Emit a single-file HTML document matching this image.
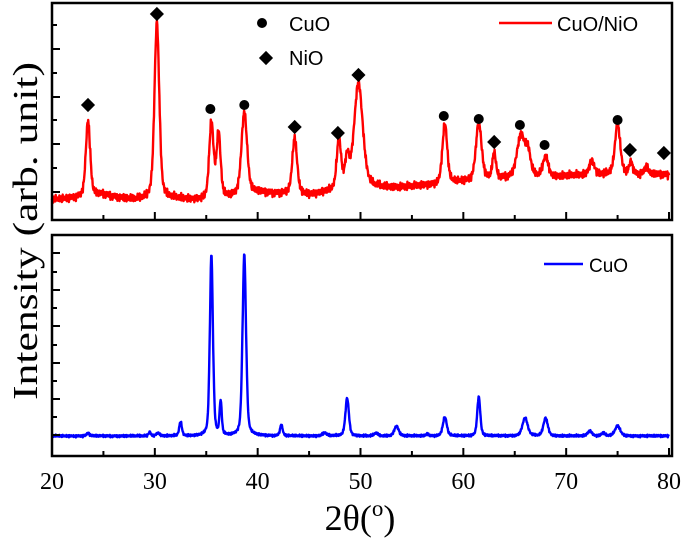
<!DOCTYPE html>
<html><head><meta charset="utf-8"><style>
body{margin:0;background:#fff}
svg{display:block}
text{font-family:"Liberation Serif",serif}
.sans{font-family:"Liberation Sans",sans-serif}
</style></head><body>
<svg id="chart" width="685" height="539" viewBox="0 0 685 539">
<g id="top"></g>
<g id="bot"></g>
<g id="axes"></g>
<text x="0" y="0" font-size="35" text-anchor="middle" textLength="338" lengthAdjust="spacingAndGlyphs" transform="translate(37,231) rotate(-90)">Intensity (arb. unit)</text>
<text x="360" y="530" font-size="36" text-anchor="middle">2θ(<tspan font-size="23" dy="-14">o</tspan><tspan dy="14">)</tspan></text>
<g>
<circle cx="262" cy="23" r="5" fill="#000"/>
<text class="sans" x="289" y="31" font-size="20">CuO</text>
<rect x="261" y="53" width="10" height="10" fill="#000" transform="rotate(45 266 58)"/>
<text class="sans" x="289" y="65" font-size="20">NiO</text>
<line x1="499" y1="23" x2="552" y2="23" stroke="#f00" stroke-width="2.5"/>
<text class="sans" x="557" y="31" font-size="20">CuO/NiO</text>
</g>
<g>
<line x1="544" y1="264" x2="583" y2="264" stroke="#00f" stroke-width="2.5"/>
<text class="sans" x="589" y="272" font-size="19">CuO</text>
</g>
</svg>
<script>
// Top (CuO/NiO) peaks: position (deg), intensity above background, FWHM
const topPeakPos = [23.5, 30.2, 35.5, 36.2, 38.7, 43.6, 47.9, 48.7, 49.8, 58.2, 61.5, 63.0, 65.6, 66.3, 68.0, 72.5, 75.0, 76.3, 77.8];
const topPeakInt = [76, 176, 76, 64, 82, 56, 50, 28, 104, 60, 58, 26, 42, 22, 20, 14, 50, 12, 8];
const topPeakWid = [0.5, 0.55, 0.5, 0.45, 0.65, 0.55, 0.5, 0.5, 1.0, 0.55, 0.65, 0.4, 0.9, 0.6, 0.6, 0.6, 0.6, 0.4, 0.4];
const topBgX = [20, 25, 28, 30, 35, 40, 45, 50, 55, 60, 65, 70, 75, 80];
const topBgY = [20, 25, 20, 22, 20, 27, 25, 32, 33, 38, 42, 44, 46, 45];
const topCircles = [[35.4, 111], [38.7, 115], [58.1, 104], [61.5, 101], [65.5, 95], [67.9, 75], [75.0, 100]];
const topDiamonds = [[23.5, 115], [30.2, 206], [43.6, 93], [47.8, 87], [49.8, 145], [63.0, 78], [76.2, 70], [79.5, 67]];
// Bottom (CuO) peaks
const botPeakPos = [23.5, 29.5, 30.3, 32.5, 35.5, 36.4, 38.7, 42.3, 46.5, 48.7, 51.5, 53.5, 56.5, 58.2, 61.5, 66.0, 68.0, 72.3, 73.6, 75.0];
const botPeakInt = [3, 4, 3, 14, 182, 33, 182, 11, 3, 38, 3, 10, 2, 19, 39, 18, 18, 5, 3, 10];
const botPeakWid = [0.3, 0.25, 0.4, 0.3, 0.35, 0.25, 0.4, 0.3, 0.5, 0.4, 0.4, 0.5, 0.3, 0.45, 0.35, 0.6, 0.5, 0.5, 0.4, 0.6];
const botBase = 20;
const xTicks = [20, 30, 40, 50, 60, 70, 80];

const NS = "http://www.w3.org/2000/svg";
const X0 = 52, X1 = 669;
function xs(v){ return X0 + (v - 20) * (X1 - X0) / 60; }
const TOPF = 220, BOTF = 456;
function ysTop(v){ return TOPF - v; }
function ysBot(v){ return BOTF - v; }
function interp(xa, ya, x){
  for (let i = 0; i < xa.length - 1; i++) if (x <= xa[i+1]) { const t = (x - xa[i]) / (xa[i+1] - xa[i]); return ya[i] + t * (ya[i+1] - ya[i]); }
  return ya[ya.length - 1];
}
function peaks(pos, inten, wid, x){
  let s = 0;
  for (let i = 0; i < pos.length; i++) {
    const d = (x - pos[i]) / (wid[i] / 2);
    s += inten[i] * (0.6 * Math.exp(-0.693 * d * d) + 0.4 / (1 + d * d));
  }
  return s;
}
function jitter(x, a){ return a * (Math.sin(x * 37.1) * 0.4 + Math.sin(x * 91.7) * 0.35 + Math.sin(x * 213.3) * 0.25); }
function mk(tag, attrs, parent){ const e = document.createElementNS(NS, tag); for (const k in attrs) e.setAttribute(k, attrs[k]); parent.appendChild(e); return e; }

const topG = document.getElementById('top'), botG = document.getElementById('bot'), axG = document.getElementById('axes');
let dT = "", dB = "";
for (let x = 20; x <= 80.001; x += 0.04) {
  const bgT = interp(topBgX, topBgY, x);
  const pkT = peaks(topPeakPos, topPeakInt, topPeakWid, x);
  const yT = ysTop(bgT + pkT + jitter(x, 5));
  dT += (dT ? "L" : "M") + xs(x).toFixed(1) + " " + yT.toFixed(1);
  const yB = ysBot(botBase + peaks(botPeakPos, botPeakInt, botPeakWid, x) + jitter(x, 1.5));
  dB += (dB ? "L" : "M") + xs(x).toFixed(1) + " " + yB.toFixed(1);
}
const lt = mk('path', {d: dT, fill: 'none', stroke: '#f00', 'stroke-width': 2.4, 'stroke-linejoin': 'round'}, topG);


const lb = mk('path', {d: dB, fill: 'none', stroke: '#00f', 'stroke-width': 2.4, 'stroke-linejoin': 'round'}, botG);


topCircles.forEach(c => {
  const e = mk('circle', {cx: xs(c[0]), cy: ysTop(c[1]), r: 5, fill: '#000'}, topG);
  
  
});
topDiamonds.forEach(c => {
  const cx = xs(c[0]), cy = ysTop(c[1]);
  const e = mk('rect', {x: cx - 5, y: cy - 5, width: 10, height: 10, fill: '#000', transform: `rotate(45 ${cx} ${cy})`}, topG);
  
  
});
const f1 = mk('rect', {x: 52, y: 3, width: 620, height: 217, fill: 'none', stroke: '#000', 'stroke-width': 2.5}, axG);


const f2 = mk('rect', {x: 52, y: 235, width: 620, height: 221, fill: 'none', stroke: '#000', 'stroke-width': 2.5}, axG);


for (let v = 20; v <= 80; v += 5) {
  const major = v % 10 === 0, L = major ? 8 : 5;
  [TOPF, BOTF].forEach(yb => {
    const t = mk('line', {x1: xs(v), x2: xs(v), y1: yb, y2: yb - L, stroke: '#000', 'stroke-width': 2}, axG);
    
    
  });
}
xTicks.forEach(v => {
  const t = mk('text', {x: xs(v), y: 489, 'font-size': 24, 'text-anchor': 'middle'}, axG);
  t.textContent = v;
  
  
});
[[25,0],[49,1],[73,0],[97,1],[120,0],[144,1],[168,0],[192,1]].forEach(p => {
  const t = mk('line', {x1: 52, x2: 52 + (p[1] ? 8 : 5), y1: p[0], y2: p[0], stroke: '#000', 'stroke-width': 2}, axG);
  
  
});
[[253,1],[272,0],[290,1],[308,0],[326,1],[345,0],[363,1],[381,0],[399,1],[417,0],[435,1]].forEach(p => {
  const t = mk('line', {x1: 52, x2: 52 + (p[1] ? 8 : 5), y1: p[0], y2: p[0], stroke: '#000', 'stroke-width': 2}, axG);
  
  
});
</script>
</body></html>
